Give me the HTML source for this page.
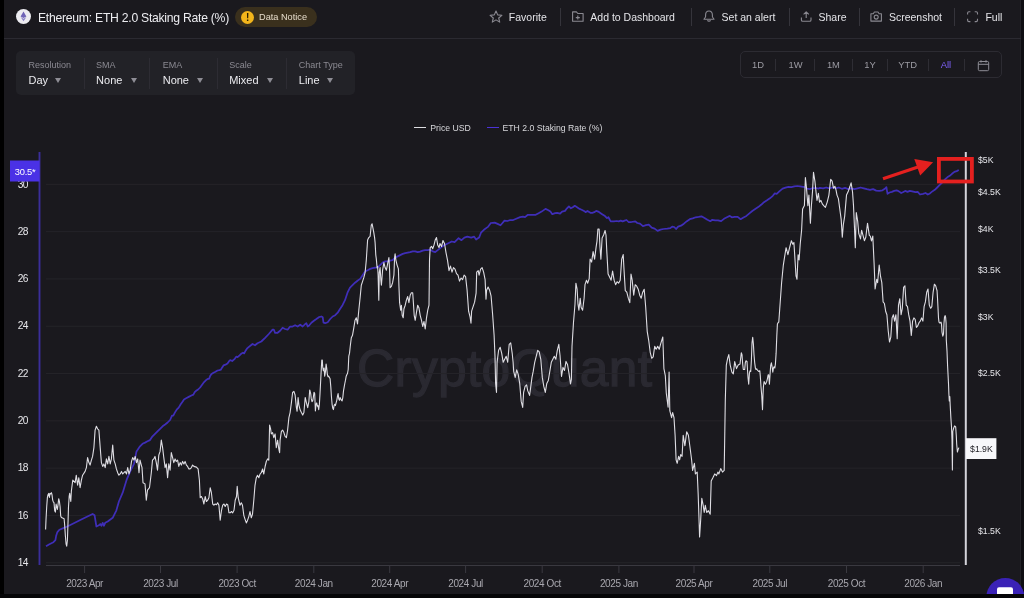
<!DOCTYPE html>
<html><head><meta charset="utf-8"><title>Ethereum: ETH 2.0 Staking Rate (%)</title>
<style>
*{margin:0;padding:0;box-sizing:border-box}
html,body{width:1024px;height:598px;overflow:hidden;background:#1a191e;font-family:"Liberation Sans", Arial, sans-serif;color:#e8e8ec}
.abs{position:absolute}
#lstrip{left:0;top:0;width:4px;height:598px;background:#000}
#bstrip{left:0;top:594px;width:1024px;height:4px;background:#050507}
#rstrip{left:1021px;top:0;width:3px;height:594px;background:#0f0e13;box-shadow:-1px 0 0 #222127}
#hline{left:4px;top:38px;width:1017px;height:1px;background:#2b2a31}
#eth{left:16px;top:9px;width:15px;height:15px;border-radius:50%;background:#ecebf0}
#title{left:38px;top:10px;font-size:12.2px;letter-spacing:-0.26px;line-height:16px;color:#ececf0;white-space:nowrap}
#notice{left:235px;top:7px;width:82px;height:20px;border-radius:10px;background:#3a301d}
#notice .ic{position:absolute;left:6px;top:3.5px;width:13.4px;height:13.4px;border-radius:50%;background:#f3b51b;color:#2b2000;font-size:10px;font-weight:bold;text-align:center;line-height:13.4px}
#notice .tx{position:absolute;left:24px;top:3px;font-size:9.2px;line-height:14px;color:#e6dccb;white-space:nowrap}
.act{position:absolute;top:10px;font-size:10.5px;line-height:14px;color:#e4e4e8;white-space:nowrap}
.sep{position:absolute;top:8px;width:1px;height:18px;background:#35343b}
#ctrl{left:16px;top:51px;width:339px;height:44px;border-radius:5px;background:#222227}
.lab{position:absolute;font-size:9px;line-height:11px;color:#8b8a92;white-space:nowrap}
.val{position:absolute;font-size:11px;line-height:13px;color:#ebebef;white-space:nowrap}
.tri{position:absolute;width:0;height:0;border-left:3.6px solid transparent;border-right:3.6px solid transparent;border-top:5px solid #8e8d95}
.csep{position:absolute;top:6.5px;width:1px;height:31px;background:#2d2c33}
#range{left:740px;top:51px;width:262px;height:27px;border:1px solid #2c2b32;border-radius:5px}
.rt{position:absolute;top:7.4px;font-size:9.4px;line-height:11px;color:#9b9aa2;white-space:nowrap;transform:translateX(-50%)}
.rsep{position:absolute;top:7px;width:1px;height:12px;background:#2e2d34}
#legend{left:0;top:121px;width:1024px;height:14px}
.lg{position:absolute;font-size:8.7px;line-height:12px;color:#d8d8dc;white-space:nowrap}
#wm{left:357px;top:339.5px;font-size:51.5px;line-height:56px;font-weight:normal;color:#2a2931;white-space:nowrap;letter-spacing:0.3px;-webkit-text-stroke:1.3px #2a2931}
svg{position:absolute;left:0;top:0}
</style></head><body>
<div class="abs" id="lstrip"></div>
<div class="abs" id="rstrip"></div>
<div class="abs" id="hline"></div>

<div class="abs" id="eth"><svg width="15" height="15" viewBox="0 0 15 15"><path d="M7.5 2.6 L10.4 7.4 L7.5 9.1 L4.6 7.4 Z" fill="#6f63b6"/><path d="M7.5 9.8 L10.4 8.1 L7.5 12.3 L4.6 8.1 Z" fill="#8a80c6"/></svg></div>
<div class="abs" id="title">Ethereum: ETH 2.0 Staking Rate (%)</div>
<div class="abs" id="notice"><div class="ic">!</div><div class="tx">Data Notice</div></div>

<!-- header actions -->
<svg width="1024" height="38" style="position:absolute;left:0;top:0" fill="none" stroke="#8a8991" stroke-width="1.1" stroke-linejoin="round">
<path d="M496 11 L497.7 14.9 L501.9 15.3 L498.7 18 L499.7 22.1 L496 19.9 L492.3 22.1 L493.3 18 L490.1 15.3 L494.3 14.9 Z"/>
<path d="M572.6 11.9 h3.8 l1.4 1.6 h5.3 v7.8 h-10.5 z M577.8 15.6 v4 M575.8 17.6 h4"/>
<path d="M709 11 c-2.2 0 -3.4 1.8 -3.4 4 v1.6 c0 0.9 -1.1 1.5 -1.6 2.6 h10 c-0.5 -1.1 -1.6 -1.7 -1.6 -2.6 v-1.6 c0 -2.2 -1.2 -4 -3.4 -4 z M707.7 20 a1.3 1.3 0 0 0 2.6 0"/>
<path d="M806.2 18 v-6 M803.6 14.4 l2.6 -2.6 l2.6 2.6 M801.4 17.6 v2.3 c0 0.8 0.5 1.3 1.3 1.3 h7 c0.8 0 1.3 -0.5 1.3 -1.3 v-2.3"/>
<path d="M870.9 13.7 h2.4 l1.1 -1.7 h3.6 l1.1 1.7 h2.3 v7.4 h-10.5 z"/><circle cx="876.2" cy="17.1" r="2"/>
<path d="M967.6 14.6 v-1.5 c0 -0.8 0.5 -1.3 1.3 -1.3 h1.5 M974.7 11.8 h1.5 c0.8 0 1.3 0.5 1.3 1.3 v1.5 M977.5 18.8 v1.5 c0 0.8 -0.5 1.3 -1.3 1.3 h-1.5 M970.4 21.6 h-1.5 c-0.8 0 -1.3 -0.5 -1.3 -1.3 v-1.5"/>
</svg>
<div class="act" style="left:508.8px">Favorite</div>
<div class="sep" style="left:559.5px"></div>
<div class="act" style="left:590.3px">Add to Dashboard</div>
<div class="sep" style="left:691px"></div>
<div class="act" style="left:721.6px">Set an alert</div>
<div class="sep" style="left:788.5px"></div>
<div class="act" style="left:818.5px">Share</div>
<div class="sep" style="left:858.7px"></div>
<div class="act" style="left:888.9px">Screenshot</div>
<div class="sep" style="left:954.4px"></div>
<div class="act" style="left:985.4px">Full</div>

<!-- controls -->
<div class="abs" id="ctrl">
 <div class="lab" style="left:12.5px;top:9px">Resolution</div><div class="val" style="left:12.5px;top:22.7px">Day</div><div class="tri" style="left:38.7px;top:27px"></div>
 <div class="csep" style="left:67.6px"></div>
 <div class="lab" style="left:80.1px;top:9px">SMA</div><div class="val" style="left:80.1px;top:22.7px">None</div><div class="tri" style="left:114.5px;top:27px"></div>
 <div class="csep" style="left:133.4px"></div>
 <div class="lab" style="left:146.7px;top:9px">EMA</div><div class="val" style="left:146.7px;top:22.7px">None</div><div class="tri" style="left:181px;top:27px"></div>
 <div class="csep" style="left:200.5px"></div>
 <div class="lab" style="left:213.2px;top:9px">Scale</div><div class="val" style="left:213.2px;top:22.7px">Mixed</div><div class="tri" style="left:250.9px;top:27px"></div>
 <div class="csep" style="left:269.5px"></div>
 <div class="lab" style="left:282.8px;top:9px">Chart Type</div><div class="val" style="left:282.8px;top:22.7px">Line</div><div class="tri" style="left:310.5px;top:27px"></div>
</div>

<div class="abs" id="range">
 <div class="rt" style="left:17px">1D</div><div class="rsep" style="left:34px"></div>
 <div class="rt" style="left:54.6px">1W</div><div class="rsep" style="left:73px"></div>
 <div class="rt" style="left:92.4px">1M</div><div class="rsep" style="left:110.7px"></div>
 <div class="rt" style="left:129px">1Y</div><div class="rsep" style="left:145.7px"></div>
 <div class="rt" style="left:166.7px">YTD</div><div class="rsep" style="left:187.3px"></div>
 <div class="rt" style="left:205px;color:#7e60f8">All</div><div class="rsep" style="left:222.7px"></div>
 <svg width="14" height="14" style="left:236px;top:6.5px" fill="none" stroke="#8e8d95" stroke-width="1"><rect x="1.3" y="2.5" width="10.4" height="9.2" rx="1.3"/><path d="M1.3 5.3 h10.4 M4 1.2 v2.4 M9 1.2 v2.4"/></svg>
</div>

<!-- legend -->
<div class="abs" style="left:414.3px;top:126.6px;width:12px;height:1.3px;background:#dcdce0"></div>
<div class="lg abs" style="left:430.3px;top:121.5px">Price USD</div>
<div class="abs" style="left:486.7px;top:126.6px;width:12px;height:1.3px;background:#4b32d6"></div>
<div class="lg abs" style="left:502.4px;top:121.5px">ETH 2.0 Staking Rate (%)</div>

<div class="abs" id="wm">CryptoQuant</div>

<svg width="1024" height="598" viewBox="0 0 1024 598">
 <g stroke="#252429" stroke-width="1"><line x1="46" x2="960" y1="562.75" y2="562.75"/><line x1="46" x2="960" y1="515.45" y2="515.45"/><line x1="46" x2="960" y1="468.15" y2="468.15"/><line x1="46" x2="960" y1="420.85" y2="420.85"/><line x1="46" x2="960" y1="373.55" y2="373.55"/><line x1="46" x2="960" y1="326.25" y2="326.25"/><line x1="46" x2="960" y1="278.95" y2="278.95"/><line x1="46" x2="960" y1="231.65" y2="231.65"/><line x1="46" x2="960" y1="184.35" y2="184.35"/></g>
 <line x1="46" x2="960" y1="565.5" y2="565.5" stroke="#3a3940" stroke-width="1.2"/>
 <g stroke="#3a3940" stroke-width="1"><line x1="84.6" x2="84.6" y1="565" y2="573"/><line x1="160.5" x2="160.5" y1="565" y2="573"/><line x1="237.1" x2="237.1" y1="565" y2="573"/><line x1="313.8" x2="313.8" y1="565" y2="573"/><line x1="389.7" x2="389.7" y1="565" y2="573"/><line x1="465.6" x2="465.6" y1="565" y2="573"/><line x1="542.2" x2="542.2" y1="565" y2="573"/><line x1="618.9" x2="618.9" y1="565" y2="573"/><line x1="694.0" x2="694.0" y1="565" y2="573"/><line x1="769.8" x2="769.8" y1="565" y2="573"/><line x1="846.5" x2="846.5" y1="565" y2="573"/><line x1="923.2" x2="923.2" y1="565" y2="573"/></g>
 <line x1="39.5" x2="39.5" y1="152" y2="565" stroke="#3b2e9a" stroke-width="1.9"/>
 <line x1="965.8" x2="965.8" y1="152" y2="565" stroke="#d4d3da" stroke-width="2"/>
 <polyline style="" points="46,546.2 49.4,544.2 53.4,542.2 55.4,540.2 56.1,536.1 57.4,532.1 59.4,529.7 62.7,528.4 66.7,526.8 70.8,524.8 74.8,522.8 78.8,520.8 82.8,518.8 92.6,514 94.6,515.3 96.4,526.5 98.9,525.3 100.2,524 101.4,525.8 102.7,522.8 103.9,525.8 105.2,522.8 107.7,521.5 112.7,517.8 116.4,510.3 118.9,501.5 122.7,492.7 126.5,480.2 130.2,471.4 134,463.9 136.5,451.4 140,446.3 142.5,443.8 145,442.6 147.5,441.3 150,440.1 152.5,436.3 155,433.8 157.5,431.3 160.1,428.8 162.6,426.3 165.1,424.5 167.6,422.5 170.1,420 172,415.6 173.3,415.6 174.7,412.9 176.7,409.6 178.7,407.6 180.7,404.2 182.7,401.5 184,399.5 186.1,398.2 188.7,396.9 191.4,395.5 193.4,394.6 194.7,392.2 196.1,390.8 198.1,389.5 200.1,387.5 202.1,384.8 204.1,382.1 206.1,380.1 208.1,378.8 209.1,378.8 210.1,376.1 211.5,374.1 213.5,372.8 215.5,371.8 217.5,370.5 219.5,370.1 220.8,369.7 222.2,367.4 223.5,365.4 225.5,364.7 227.5,363.4 228.9,361.4 230.2,360.1 232.2,361 234.2,359.4 236.2,356.7 237.6,357.1 239.6,355.4 241.6,353.4 242.9,352.7 244.2,353.4 245.6,350.7 246.9,348.7 248.3,347.4 252.5,344 255,345.3 257.5,343.3 261.3,341.5 265.1,337.8 268.8,334 272.6,329.7 273.8,329.7 275.1,332.8 277.6,332.8 280.1,330.8 282.6,327.7 285.1,329 287.6,329.7 290.1,326.5 292.6,326.5 295.1,325.2 297.6,326.5 300.2,324.7 302.7,326.5 305.2,324 306.4,323.2 307.7,326.5 308.9,325.7 311.4,322.7 313.9,320.7 316.4,319 318.9,317.2 321.5,316.5 322.7,317.2 323.5,322.7 325.2,323.2 327.7,322.2 330.2,319 332.7,316.5 335.2,315.2 337.7,312.7 340,309 342.5,305.2 345,300.2 347.5,292.7 350,287.7 352.5,285.2 355,282.7 357.5,280.7 360.1,278.9 362.6,275.2 365.1,271.4 367.6,270.2 370.1,268.9 372.6,268.1 375.1,267.6 377.6,267.6 380.1,265.1 382.6,262.6 385.1,261.4 387.6,261.4 390.1,260.6 392.6,260.1 395.1,257.6 397.6,256.4 400.2,255.1 402.7,253.9 405.2,253.1 407.7,252.6 410.2,252.1 412.7,251.4 415.2,251.4 417.7,252.1 420.2,251.6 422.7,250.6 425.2,250.1 427.7,250.1 430.2,249.6 432.7,251.4 435.2,252.1 437.7,250.1 440,248.4 443.9,245.4 447.8,243.5 451.7,241.5 454.6,242.1 458.6,238.2 461.5,240.2 464.4,237.6 467.3,236.6 471.2,237.6 474.2,236.6 476.1,239.6 479.1,237.6 481,232.7 483.9,229.8 487.9,226.9 490.8,223 494.7,222.6 497.6,223.9 500.5,225.3 502.5,223 504.5,220.6 507.4,221 510.3,220 513.2,220 516.2,218.7 520.1,217.1 523,216.7 525,217.1 527.9,214.8 531.8,214.8 535.7,214.8 538.6,213.2 541.6,211.6 545.5,208.9 548.4,210.3 550.4,211.6 552.3,214.2 555.2,213.2 557.2,212.8 560.1,213.6 562.1,211.6 565,210.9 567,208.3 568.9,206.4 570.9,208.3 572.8,207.3 574.8,205.8 576.7,207 579.6,208.9 581.6,209.7 584.5,211.2 585.5,212.2 587.5,210.9 590.4,212.8 592.3,212.8 594.3,212.2 596.2,210.9 598.2,211.6 602.1,214.2 605,216.1 607,218.1 608.4,217.1 609.9,220 610.9,221.4 613.8,221.4 616.8,221 618.7,221.4 620.7,220.6 622.6,221.4 624.6,220.6 626.5,220 628.5,222 631.4,222 635.3,221.4 637.3,223 640,223.7 642.9,226.2 645.9,225.1 648.8,224.7 651.7,227.6 654.6,228.6 657.6,230.9 660.5,229.6 663.4,229 667.3,228.6 670.3,228.2 672.2,226.6 674.2,227 676.1,229 678.1,226.6 681,225.7 683.9,223.7 686.9,221.2 689.8,219.2 692.7,218.4 695.7,217.3 698.6,216.9 701.5,216.3 704.5,217.9 707.4,219.8 710.3,221.2 712.3,219.8 715.2,220.4 718.1,220.4 721.1,221.2 724,218.8 726.9,217.3 729.8,215.9 731.8,217.3 734.7,216.9 737.7,216.9 740.6,219.2 743.5,217.5 746.4,215.9 749.4,213.4 752.3,211 755.2,209.1 758.2,207.1 761.1,204.8 764,202.2 767,200.3 769.9,198.3 772.8,195.8 774.8,193.4 776.7,193.8 779.6,191.1 782.6,188.6 785.5,187.6 788.4,186.8 791.4,187.2 794.3,186.4 797.2,186 800.2,186.4 803.1,186.8 805,187.2 807,188.6 809.9,189.1 812.9,188 815.8,188 818.7,188.6 820,187.8 823.1,188.3 826.2,187.5 829.4,188.3 832.5,187.5 835.6,188.3 838.8,187.5 841.9,188.8 845,187.8 848.1,189.1 851.2,188.3 854.4,189.1 857.5,188.3 860.6,187.5 863.8,188.3 866.9,189.1 870,189.8 873.1,189.1 876.2,190.6 879.4,190.9 882.5,190.3 884.8,188.8 886.4,187.2 887.5,193.8 889.5,192.5 891.9,191.9 894.2,190.9 896.6,190.3 898.9,191.4 901.2,193 902.8,192.2 905.2,190.9 907.5,191.9 909.8,190.9 912.2,191.4 915.3,192.2 917.7,191.9 920,194.5 923.1,193.8 925.5,193 927.8,194.5 929.4,193.8 931.7,191.9 934.8,189.8 937.2,187.5 939.5,185.2 941.9,182.8 945,179.4 947.3,177.3 949.7,175.8 952,173.8 954.4,171.9 956.7,171.1 958.8,170" fill="none" stroke="#3f2eb8" stroke-width="1.75" stroke-linejoin="round"/>
 <polyline style="" points="45.6,529.5 46,520.1 46.7,506.7 47.4,497.4 48,494.7 48.7,493.4 49.4,497.4 50,493.4 50.7,494 51.4,492.7 52,494.7 52.7,500.1 53.4,502.1 54,502.7 54.7,510.7 55.4,512.1 56.1,504.1 56.7,506.7 57.4,509.4 58.1,504.1 58.7,498.7 59.4,501.4 60.1,506.7 60.7,516.1 61.4,517.4 62.7,518.1 64.1,518.8 64.7,525.5 65.4,536.1 66.1,544.2 66.7,546.2 67.4,540.2 68.1,520.1 68.5,506.7 69.2,496 69.7,493.4 70.2,497.4 70.8,501.4 71.4,490.7 72.1,485.3 72.8,480 75.1,482.7 76.3,475.2 77.6,485.2 78.8,477.7 80.1,487.7 81.4,480.2 82.6,475.2 85.1,471.4 86.4,467.6 87.6,457.6 88.9,462.6 90.1,465.1 91.4,460.1 92.6,456.4 93.9,447.6 95.1,430.1 96.4,426.3 97.6,428.8 98.9,430.1 100.2,447.6 101.4,462.6 102.7,466.4 103.9,463.9 105.2,467.6 106.4,458.9 107.7,463.9 108.9,456.4 110.2,463.9 111.4,458.9 112.7,445.1 113.9,460.1 115.2,463.9 116.4,468.9 117.7,472.7 118.9,475.2 120.2,473.9 121.5,471.4 122.7,473.9 125.2,471.4 126.5,473.9 127.7,467.6 129,473.9 130.2,470.2 131.5,461.4 132.7,457.6 134,460.1 135.2,456.4 136.5,462.6 137.7,458.9 139,472.7 140,460.1 142,467.6 143,482.7 145,483.9 146.3,500.2 147.5,490.2 149.5,487.7 151.3,472.7 152.5,460.1 153.8,458.9 155,456.4 156.3,462.6 157.5,470.2 158.8,455.1 160.1,451.4 161.3,440.1 162.6,447.6 163.8,457.6 165.1,467.6 166.3,463.9 167.6,477.7 168.8,463.9 170.1,470.2 171.3,452.6 172.6,457.6 173.8,462.6 175.1,458.9 176.3,461.4 177.6,460.1 178.8,466.4 180.1,462.6 181.4,465.1 182.6,461.4 183.9,463.9 185.1,461.4 186.4,465.1 187.6,466.4 188.9,468.9 190.1,468.9 191.4,467.6 192.6,465.1 193.9,466.4 196.4,467.1 198.1,468.9 199.4,480.2 200.2,497.7 201.4,496.5 202.7,499 203.9,504 205.2,496.5 206.4,501.5 207.7,500.2 208.9,497.7 210.2,487.7 211.4,492.7 212.7,504 213.9,505.2 215.2,504 216.4,504.7 217.7,502.7 218.9,505.2 220.2,520.3 221.5,510.3 222.7,505.2 224,504 225.2,506.5 226.5,504 227.7,504.7 229,512.8 230.2,512.8 231.5,511.5 232.7,512.8 234,510.3 235.2,500.2 236.5,496.5 237.2,486.4 238.2,497.7 240,505.3 241.3,502.8 242.5,505.3 243.8,515.3 245,519.1 246.3,522.9 247.5,520.4 248.8,516.6 250,511.6 251.3,517.8 252.5,514.1 253.8,500.3 255,485.3 256.3,477.7 257.5,475.2 258.8,477.7 260.1,474 261.3,472.7 262.6,469 263.8,474 265.1,466.5 266.3,461.5 267.6,458.9 268.8,460.2 269.6,425.1 270.6,428.9 271.3,433.9 272.6,432.6 273.8,437.6 275.1,433.9 276.3,447.7 277.6,440.2 278.8,448.9 279.6,452.7 280.1,440.2 281.4,431.4 282.6,430.1 283.9,432.6 285.1,436.4 286.4,437.6 287.6,430.1 288.9,417.6 290.1,412.6 291.4,402.6 292.6,392.5 293.9,391.3 295.1,395 296.4,407.6 297.1,411.3 298.1,397.5 298.9,405.1 300.2,410.1 301.4,412.6 302.7,415.1 303.9,412.6 305.2,397.5 306.4,402.6 307.7,407.6 308.9,401.3 309.7,390 310,390.9 310.7,393.6 311.3,398.9 312,401.6 312.7,400.9 313.3,397.6 314,392.2 314.7,393.6 315.4,411 316,404.3 316.7,402.9 317.4,406.3 318,405.6 318.7,409.6 319.4,404.3 320,393.6 320.7,380.2 321.4,366.8 321.8,360.1 322.3,360.1 322.7,366.8 323.4,370.8 324.1,368.1 324.7,376.2 325.4,372.1 326.1,364.1 326.7,368.1 327.4,374.8 328.1,376.8 328.7,376.2 329.4,377.5 330.1,378.8 330.8,386.9 331.4,396.2 332.1,404.3 332.8,408.3 333.4,409.6 334.1,405.6 334.8,404.3 335.4,405.6 336.1,402.9 336.8,400.3 337.5,396.2 338.1,393.6 338.8,398.9 339.5,400.3 340.1,397.6 340.8,398.9 341.5,400.3 342.1,400.9 342.8,397.6 343.5,390.9 344.2,386.9 344.8,383.5 345.5,380.2 346.2,376.2 346.8,374.8 347.5,373.5 348.2,369.5 348.8,356.1 349.5,353.4 350.2,346.7 351.3,337.8 352.5,335.3 353.8,327.8 355,320.3 356.3,317.8 357.5,324 358.8,310.3 360.1,297.7 361.3,285.2 362.6,281.4 363.8,277.7 365.1,272.7 366.3,260.1 367.1,247.6 367.6,240.1 368.8,237.6 370.1,236.3 371.3,225 372.1,223.8 373.1,228.8 373.8,232.6 374.6,237.6 375.1,242.6 375.8,255.1 376.3,258.9 377.1,267.6 377.6,266.4 378.1,275.2 378.8,300.2 379.3,272.7 380.1,267.6 380.9,280.2 381.4,285.2 382.6,270.2 383.9,262.6 385.1,267.6 386.4,270.2 387.6,263.9 388.9,257.6 389.6,270.2 390.1,287.7 391.4,286.4 392.6,282.7 393.9,275.2 394.6,257.6 395.1,253.9 395.9,260.1 397.1,265.1 398.4,268.9 398.9,285.2 399.6,302.7 400.7,310.3 401.4,305.2 402.2,315.3 403.2,317.8 403.9,309 405.2,305.2 406.4,300.2 407.7,296.5 408.9,302.7 410.2,295.2 411.4,292.7 412.7,292.7 413.4,302.7 414.2,315.3 415.2,320.3 416.4,312.8 417.7,305.2 418.9,307.7 420.2,315.3 421.5,320.3 422.7,326.5 424,321.5 425.2,329 426.5,317.8 427.7,310.3 429,305.2 429.5,260.1 430.2,247.6 431.5,246.3 432.7,248.8 434,245.1 435.2,240.1 436.5,237.6 437.7,245.1 439,247.6 440,243.5 441.5,246.5 443,240.5 444.5,243.5 446,252.6 447.5,260.1 449,270.6 450.5,266.1 452,272.1 453.5,267.6 455,269.1 456.5,273.6 458,275.1 459.5,281.1 461.1,278.1 462.6,279.6 464.1,275.1 465.6,276.6 467.1,290.2 468.6,311.2 470.1,317.2 471,323.2 471.6,311.2 473.1,306.7 474.6,302.2 476.1,293.2 476.7,272.1 478.2,270.6 479.1,275.1 480.6,269.1 482.1,267.6 483.6,272.1 485.1,279.6 486,299.2 486.6,290.2 488.1,287.1 489.6,290.2 491.1,296.2 492.6,314.2 494.1,335.3 495,356.3 495.6,383.4 496.5,392.4 497.1,362.3 498.6,350.3 500.2,347.3 501.7,353.3 503.2,362.3 504.7,359.3 506.2,356.3 507.7,362.3 509.2,344.3 510.7,342.8 512.2,353.3 513.1,362.3 513.7,371.4 515.2,377.4 516.7,369.8 518.2,374.4 519.7,383.4 521.2,401.4 522.7,407.4 523.6,392.4 525.1,386.4 526.6,384.9 527.8,390.9 529.6,395.4 530.8,386.4 532,377.4 533.2,371.4 534.7,362.3 536.2,356.3 537.7,350.3 539.2,351.8 540.8,359.3 542.3,377.4 543.8,386.4 545.3,392.4 546.8,383.4 548.3,380.4 549.8,371.4 551.3,362.3 552.8,359.3 554.3,356.3 555.8,359.3 557.3,350.3 558.8,344.3 560,355.3 561.5,376.4 563,367.4 564.5,370.4 566,361.4 567.5,364.4 569,373.4 570.5,383.9 571.4,379.4 572,346.3 573.5,322.3 575,304.2 575.9,283.2 577.1,289.2 578,304.2 578.9,310.2 580.2,298.2 581.1,307.2 582.6,310.2 584.1,298.2 585,284.7 586.5,280.2 587.7,283.2 589.2,278.6 590.1,259.1 591.6,262.1 593.1,251.6 594.6,259.1 596.1,247.1 597,241.1 597.9,229 599.1,229 600,247.1 600.9,259.1 602.1,238 603.6,235 605.1,230.5 606,235 606.9,253.1 608.1,274.1 609.6,277.1 611.1,280.2 612.6,271.1 614.1,280.2 615.6,284.7 617.1,281.7 618.6,283.2 620.2,280.2 621.7,259.1 623.2,254.6 624.1,271.1 625.3,290.7 626.8,292.2 628.3,298.2 629.8,302.7 631,274.1 632.2,280.2 633.7,295.2 635.2,284.7 636.7,286.2 638.2,289.2 639.7,295.2 641.2,298.2 642.7,292.2 644.2,289.2 645.7,307.2 647.2,331.3 648.7,340.3 650.2,352.3 651.7,358.3 653.2,356.8 654.7,346.3 656.2,349.3 657.7,346.3 659.2,349.3 660.8,343.3 662.8,337 663.9,368.6 665.3,375.6 666.3,393.2 668.1,407.2 669.1,372.1 669.8,410.7 671.6,417.7 672.6,412.5 674,417.7 675.1,435.3 676.1,459.8 677.2,463.3 678.6,456.3 679.6,459.8 680.7,454.6 682.1,456.3 683.2,435.3 684.9,445.8 686.7,431.8 688.4,435.3 689.8,445.8 691.6,459.8 692.6,470.4 694.4,463.3 695.4,473.9 697.2,472.1 698.2,494.9 699.6,537 700.7,519.5 701.8,498.4 703.2,505.4 704.2,512.5 705.3,505.4 706.7,512.5 708.4,510.7 710.2,514.2 711.2,480.9 713,477.4 714.7,473.9 716.5,475.6 717.9,472.1 718.9,473.9 720.7,468.6 722.5,472.1 724.2,470.4 725.3,400.2 726.3,365.1 727.7,358.1 728.8,354.6 730.2,365.1 731.9,372.1 733.3,373.9 734.7,361.6 736.5,368.6 738.2,365.1 740,364.1 741.3,352.8 742,354.8 742.7,364.1 743.3,369.5 744.7,369.5 745.3,362.8 746,360.8 747,361.4 747.4,368.1 748,377.5 748.7,384.2 749.4,373.5 750,370.8 750.7,371.5 751.4,360.1 752,342.7 752.7,337.4 753.4,344.1 754,354.8 754.7,362.8 755.4,368.1 756,369.5 756.7,368.8 757.4,370.1 758.7,371.5 759.8,370.8 760.3,376.1 761,386.8 761.7,394.9 762.5,409.6 763,394.9 763.4,386.8 764.1,381.5 764.7,382.8 765.4,384.2 766.1,382.8 766.7,381.5 767.4,378.8 768.1,374.8 768.7,374.8 769.4,384.2 770.1,373.5 770.7,365.5 771.4,362.8 772.1,366.8 772.8,372.1 773.4,368.1 774.1,366.8 774.8,368.1 775.4,364.1 776.1,353.4 776.8,336 777.4,324 778.1,322.7 778.8,322 781.6,282.8 783.3,265.3 784.4,258.2 786.1,247.7 787.9,254.7 789.6,247.7 791.4,240.7 792.8,244.2 793.9,242.5 794.9,258.2 796,275.8 797,279.3 798.1,254.7 799.1,260 800.2,244.2 801.6,230.2 802.6,209.1 804.4,205.6 805.4,177.5 806.5,188.1 807.9,205.6 808.9,195.1 810.4,223.2 811.4,205.6 812.5,191.6 813.5,172.3 814.9,181.1 816,191.6 817,200.4 818.4,193.3 819.5,202.1 820.9,200.4 822.3,203.9 823.7,205.6 825.4,207.4 827.2,202.1 828.9,195.1 830.7,179.3 832.1,181.1 833.5,188.1 834.9,186.3 836,189.8 837,195.1 838.4,198.6 839.8,209.1 841.2,219.6 842.3,237.2 843.3,224.9 844.7,216.1 846.5,195.1 848.2,191.6 850,186.3 851.1,182.8 852.5,191.6 853.5,205.6 854.6,230.2 855.3,247.7 856.3,212.6 857.7,221.4 858.8,233.7 860.5,238.9 861.6,230.2 863,235.4 864.4,240.7 865.8,237.2 867.5,223.2 869.3,235.4 870.3,236.1 871.5,240.9 872.8,236.1 874.1,263.4 875.1,289 876.7,279.4 877.6,282.6 879.2,265 880.5,276.2 881.8,282.6 883.1,301.9 884.4,303.5 885.7,311.5 886.9,314.7 888.2,330.7 889.5,342 890.8,337.2 892.1,317.9 893.4,314.7 894.6,321.1 895.9,314.7 897.2,338.8 898.5,305.1 899.8,298.7 901.1,314.7 902.3,308.3 903.6,287.4 904.9,285.8 906.2,305.1 907.5,306.7 908.7,314.7 910,321.1 911.3,335.5 912.6,321.1 913.9,317.9 915.2,319.5 916.4,327.5 917.7,325.9 919,322.7 920.3,321.1 921.6,317.9 922.9,321.1 924.1,306.7 925.4,301.9 926.7,292.3 928,289 929.3,305.1 930.6,308.3 931.8,306.7 933.1,292.3 934.4,284.2 935.7,285.8 937,290.6 937,290 937.5,298 938,308 938.5,318.1 939,322.1 940,323.1 941,322.1 941.5,324.1 942,332.1 942.8,336.1 943.5,334.1 944,323.1 944.5,317.1 945.1,315.6 945.6,317.1 946.1,323.1 946.3,340 947,350.9 947.6,366.1 948.5,383.5 948.9,394.3 949.3,400.9 949.8,396.5 950.2,405.2 950.9,418.3 951.5,427 952,440 952.4,470 952.8,431.3 953.7,428 954.6,425.9 955.7,427 956.3,435.7 956.7,444.3 957.4,452 958,449.8 958.9,447.6" fill="none" stroke="#dedde3" stroke-width="1.1" stroke-linejoin="round"/>
 <g font-family='"Liberation Sans", Arial, sans-serif' font-size="10.2" letter-spacing="-0.5" fill="#e6e6ea"><text x="28" y="565.9" text-anchor="end">14</text><text x="28" y="518.6" text-anchor="end">16</text><text x="28" y="471.3" text-anchor="end">18</text><text x="28" y="424.0" text-anchor="end">20</text><text x="28" y="376.7" text-anchor="end">22</text><text x="28" y="329.4" text-anchor="end">24</text><text x="28" y="282.1" text-anchor="end">26</text><text x="28" y="234.8" text-anchor="end">28</text><text x="28" y="187.5" text-anchor="end">30</text></g>
 <g font-family='"Liberation Sans", Arial, sans-serif' font-size="8.7" fill="#e6e6ea"><text x="978" y="162.8">$5K</text><text x="978" y="195.3">$4.5K</text><text x="978" y="231.5">$4K</text><text x="978" y="272.7">$3.5K</text><text x="978" y="320.1">$3K</text><text x="978" y="376.3">$2.5K</text><text x="978" y="533.6">$1.5K</text></g>
 <g font-family='"Liberation Sans", Arial, sans-serif' font-size="10" letter-spacing="-0.4" fill="#a8a7ae"><text x="84.6" y="586.7" text-anchor="middle">2023 Apr</text><text x="160.5" y="586.7" text-anchor="middle">2023 Jul</text><text x="237.1" y="586.7" text-anchor="middle">2023 Oct</text><text x="313.8" y="586.7" text-anchor="middle">2024 Jan</text><text x="389.7" y="586.7" text-anchor="middle">2024 Apr</text><text x="465.6" y="586.7" text-anchor="middle">2024 Jul</text><text x="542.2" y="586.7" text-anchor="middle">2024 Oct</text><text x="618.9" y="586.7" text-anchor="middle">2025 Jan</text><text x="694.0" y="586.7" text-anchor="middle">2025 Apr</text><text x="769.8" y="586.7" text-anchor="middle">2025 Jul</text><text x="846.5" y="586.7" text-anchor="middle">2025 Oct</text><text x="923.2" y="586.7" text-anchor="middle">2026 Jan</text></g>
 <rect x="10" y="160.5" width="29.6" height="21" fill="#4a31e6"/>
 <text x="25.1" y="174.9" text-anchor="middle" font-family='"Liberation Sans", Arial, sans-serif' font-size="9.3" letter-spacing="-0.2" fill="#ffffff">30.5*</text>
 <rect x="966" y="438.2" width="30.4" height="20.8" fill="#f7f7fa"/>
 <text x="981.4" y="452.4" text-anchor="middle" font-family='"Liberation Sans", Arial, sans-serif' font-size="8.7" fill="#1c1b21">$1.9K</text>
 <rect x="938.9" y="158.9" width="33" height="22.6" fill="none" stroke="#e4201f" stroke-width="3.8"/>
 <line x1="883" y1="178.8" x2="918" y2="167" stroke="#e4201f" stroke-width="3.3"/>
 <path d="M933.1 162.3 L914.3 159.1 L920.2 175.5 Z" fill="#e4201f"/>
 <circle cx="1005.3" cy="597" r="19" fill="#3a22b6"/>
 <rect x="997" y="587.3" width="16" height="8" rx="2" fill="#ffffff"/>
</svg>
<div class="abs" id="bstrip"></div>
</body></html>
